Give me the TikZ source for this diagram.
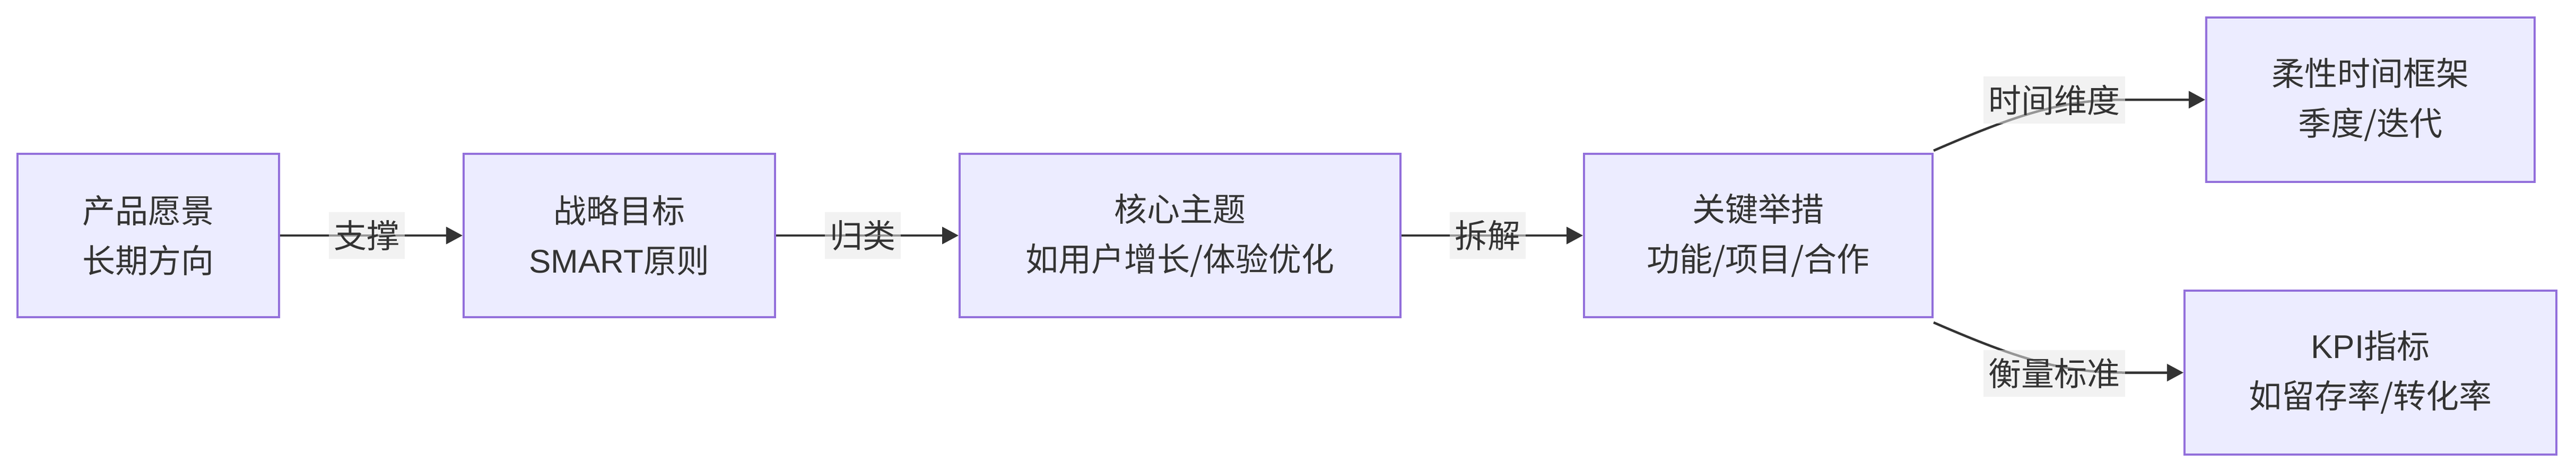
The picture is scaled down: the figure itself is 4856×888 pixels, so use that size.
\documentclass[tikz,border=0pt]{standalone}
\usepackage{fontspec}
\setmainfont{Noto Sans CJK SC}
\newfontfamily\latfont{Liberation Sans}
\usetikzlibrary{arrows.meta}
\definecolor{nodefill}{HTML}{ECECFF}
\definecolor{nodeborder}{HTML}{9370DB}
\definecolor{txt}{HTML}{333333}
\definecolor{lblbg}{HTML}{E8E8E8}
\begin{document}
\begin{tikzpicture}[x=1pt,y=-1pt,
  box/.style={draw=nodeborder, fill=nodefill, line width=4pt, text=txt,
    font=\fontsize{62}{94}\selectfont, align=center, inner sep=0pt, minimum height=308pt},
  elabel/.style={fill=lblbg, fill opacity=0.55, text opacity=1, text=txt,
    font=\fontsize{62}{62}\selectfont, inner xsep=9.5pt, inner ysep=0pt, minimum height=88pt},
  edge/.style={draw=txt, line width=4.5pt, -{Triangle[length=31pt,width=32pt]}}]
\useasboundingbox (0,0) rectangle (4856,888);

\node[box, minimum width=493pt] (a) at (279.5,444) {产品愿景\\长期方向};
\node[box, minimum width=587pt] (b) at (1167.5,444) {战略目标\\{\latfont SMART}原则};
\node[box, minimum width=831pt] (c) at (2224.5,444) {核心主题\\如用户增长/体验优化};
\node[box, minimum width=657pt] (d) at (3314.5,444) {关键举措\\功能/项目/合作};
\node[box, minimum width=619pt, minimum height=310pt] (e) at (4468.5,188) {柔性时间框架\\季度/迭代};
\node[box, minimum width=701pt, minimum height=309pt] (f) at (4468.5,702.5) {{\latfont KPI}指标\\如留存率/转化率};

\draw[edge] (a) -- node[elabel, pos=0.475] (l1) {支撑} (b);
\draw[edge] (b) -- node[elabel, pos=0.475] (l2) {归类} (c);
\draw[edge] (c) -- node[elabel, pos=0.475] (l3) {拆解} (d);

\coordinate (eh) at ([xshift=-154pt]e.west);
\coordinate (fh) at ([xshift=-114pt]f.west);
\draw[edge] ([yshift=4pt]d.north east) .. controls +(150,-65) and +(-120,0) .. (eh) -- (e);
\draw[edge] ([yshift=-8pt]d.south east) .. controls +(150,65) and +(-120,0) .. (fh) -- (f);

\node[elabel] (l4) at (3872,188.5) {时间维度};
\node[elabel] (l5) at (3872,703.5) {衡量标准};
\end{tikzpicture}
\end{document}
